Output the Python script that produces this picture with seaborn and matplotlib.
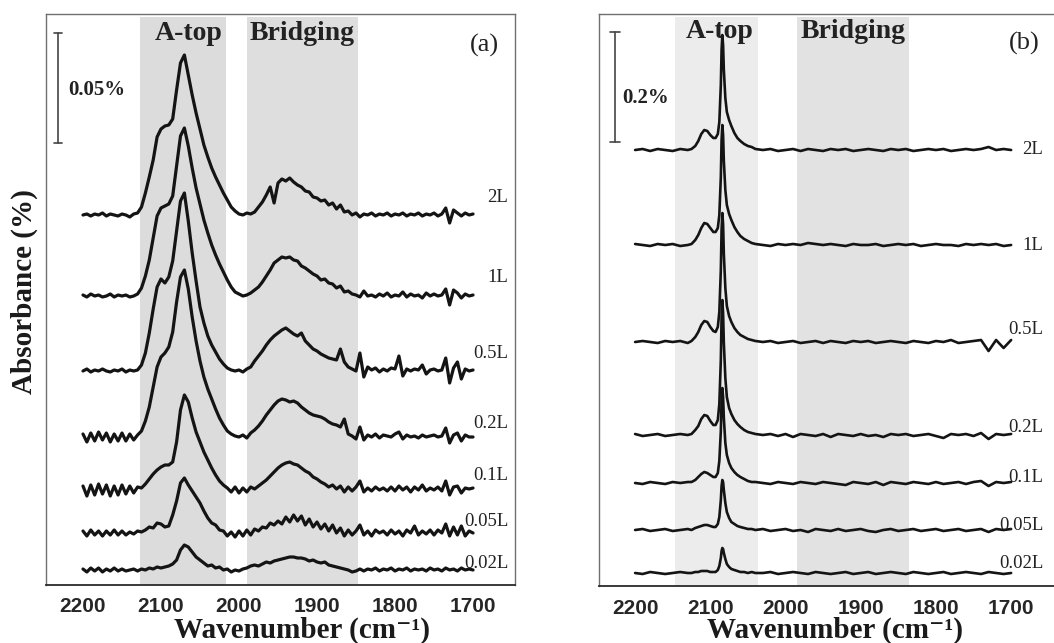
import numpy as np
import pandas as pd
import matplotlib
matplotlib.use("Agg")
import matplotlib.pyplot as plt
from matplotlib.ticker import MultipleLocator
import seaborn as sns

sns.set_style("white")
plt.rcParams['font.family'] = ['Liberation Serif', 'DejaVu Serif']

# ---------------- data (absorbance in scale-bar units: 110 units = bar) ----------------
labels = ["2L", "1L", "0.5L", "0.2L", "0.1L", "0.05L", "0.02L"]

# panel (a): wavenumber grid, 5 cm-1 steps from 2200 to 1700
wn_a = list(range(2200, 1695, -5))

a_2L = [0, 1, -1, 1, 0, 2, -1, 1, 0, -1,
        1, 0, -2, 1, 2, 8, 22, 38, 55, 78,
        86, 89, 90, 96, 125, 152, 160, 140, 120, 102,
        86, 70, 58, 47, 38, 30, 22, 15, 8, 4,
        1, 0, 2, 1, 3, 8, 13, 20, 28, 12,
        32, 36, 34, 37, 33, 30, 28, 24, 23, 18,
        17, 14, 15, 10, 12, 6, 10, 3, 4, 0,
        2, -2, 1, 0, 2, -1, 1, 0, 2, -1,
        1, 0, 2, -1, 1, 0, 2, -1, 1, 0,
        2, -1, 1, 7, -8, 5, 2, -1, 2, 0,
        1]
a_1L = [1, -1, 2, 0, 1, -1, 0, 2, -1, 1,
        0, 1, -1, 0, 2, 8, 20, 36, 58, 80,
        88, 90, 92, 100, 130, 160, 168, 150, 128, 108,
        92, 76, 63, 51, 41, 32, 24, 16, 9, 4,
        2, 0, 1, 3, 6, 9, 14, 20, 26, 33,
        36, 39, 38, 39, 36, 35, 30, 28, 25, 22,
        20, 16, 17, 13, 12, 8, 10, 4, 5, 2,
        1, -1, 5, 0, 1, -1, 2, 0, 3, -1,
        1, 0, 4, -1, 2, 0, 1, -2, 3, 0,
        2, 0, 1, 7, -9, 6, 3, -2, 2, 0,
        1]
a_05L = [0, 2, -1, 1, 0, 2, 0, -1, 1, 0,
         2, -1, 1, 0, 1, 6, 18, 38, 62, 84,
         92, 88, 94, 110, 140, 170, 178, 150, 118, 90,
         64, 48, 35, 26, 19, 12, 7, 3, 1, 0,
         1, -1, 2, 4, 10, 15, 20, 26, 31, 35,
         38, 41, 43, 40, 37, 35, 38, 30, 26, 22,
         20, 17, 15, 13, 12, 11, 22, 9, 4, 2,
         0, 18, -6, 4, 1, 3, -1, 2, 0, 3,
         2, 15, -5, 2, 0, 2, 1, 6, -3, 1,
         2, 0, 1, 13, -12, 3, 9, -8, 2, 0,
         1]
a_02L = [3, -5, 4, -4, 5, -3, 4, -5, 3, -4,
         4, -4, 3, -3, 2, 6, 16, 30, 50, 70,
         80, 84, 90, 105, 135, 160, 167, 148, 120, 96,
         76, 60, 48, 38, 28, 19, 12, 6, 3, 1,
         0, 2, -1, 4, 7, 11, 16, 22, 27, 32,
         36, 38, 37, 35, 36, 34, 30, 27, 24, 22,
         21, 20, 18, 15, 13, 12, 10, 18, 3, 1,
         -2, 10, -3, 2, 0, 3, -1, 2, 1, 0,
         3, 5, -2, 2, 0, 1, -1, 2, 0, 1,
         2, 0, 1, 9, -6, 2, 4, -4, 2, 0,
         0]
a_01L = [4, -6, 5, -5, 6, -4, 5, -6, 4, -5,
         5, -4, 4, -3, 3, 2, 6, 11, 16, 20,
         23, 25, 25, 28, 48, 80, 95, 88, 72, 58,
         48, 38, 30, 22, 15, 9, 5, 2, -2, 3,
         -3, 2, -2, 3, 1, 4, 7, 10, 14, 18,
         22, 25, 27, 28, 26, 25, 22, 19, 17, 13,
         11, 8, 6, 3, 5, 1, 4, -2, 3, -1,
         3, 9, -2, 2, -1, 3, 0, 2, -1, 3,
         -1, 4, 0, 3, -2, 3, 0, 5, -1, 2,
         0, 3, -1, 9, -5, 3, 4, -3, 2, 1,
         2]
a_005L = [2, -3, 3, -2, 2, -3, 2, -2, 3, -2,
          2, -2, 1, -1, 2, 1, 3, 6, 5, 10,
          9, 6, 7, 18, 32, 50, 55, 48, 42, 36,
          30, 22, 15, 10, 8, 3, 2, -3, 1, -4,
          2, -3, 3, -2, 4, 2, 6, 5, 10, 8,
          12, 9, 16, 11, 18, 12, 17, 8, 14, 6,
          11, 4, 9, 2, 8, 0, 5, -3, 3, -2,
          2, 8, -2, 2, -3, 3, 0, 2, -2, 3,
          -1, 2, -3, 3, 0, 7, -2, 2, -1, 3,
          -2, 3, 0, 9, -3, 6, -2, 7, -3, 2,
          0]
a_002L = [1, -2, 2, -1, 2, -2, 1, -1, 2, -1,
          1, -1, 0, 1, -1, 1, 0, 2, 1, 3,
          2, 3, 4, 6, 10, 20, 25, 23, 18, 13,
          10, 7, 4, 5, 2, 3, 0, 1, -2, 0,
          -1, 1, 2, 4, 5, 4, 6, 8, 7, 9,
          10, 11, 12, 13, 13, 12, 12, 11, 9, 10,
          8, 7, 8, 5, 4, 3, 2, 1, 0, -2,
          -1, 1, -1, 1, 0, 2, -1, 1, 0, 2,
          -1, 1, 0, 2, -1, 1, 0, 1, -1, 2,
          0, 1, -1, 2, 0, 1, -1, 2, 0, 1,
          0]

# panel (b): non-uniform wavenumber grid (fine around the sharp A-top band)
wn_b = [2200, 2190, 2180, 2170, 2160, 2150, 2140, 2130,
        2125, 2120, 2116, 2112, 2108, 2104, 2100, 2096, 2093, 2090,
        2088, 2086, 2085, 2084, 2083, 2082, 2080, 2078, 2075, 2072,
        2068, 2064, 2060, 2055, 2050, 2045, 2040,
        2030, 2020, 2010, 2000, 1990, 1980, 1970, 1960, 1950, 1940,
        1930, 1920, 1910, 1900, 1890, 1880, 1870, 1860, 1850, 1840,
        1830, 1820, 1810, 1800, 1790, 1780, 1770, 1760, 1750, 1740,
        1730, 1720, 1710, 1700]

b_2L = [0, 1, -1, 1, 0, -1, 1, 0,
        1, 4, 9, 16, 20, 19, 15, 12, 12, 16, 28, 65, 100, 115, 105, 80, 52, 38, 30, 24, 17, 12, 9, 6, 4, 3, 1,
        0, 1, -1, 0, 1, -1, 1, 0, -1, 1, 0, 1, -1, 0, 1, 0, -1, 1, 0, 1,
        -1, 0, 1, 0, 1, -1, 0, 1, 0, 1, 3, 0, 1, 0]
b_1L = [1, 0, -1, 1, 0, 1, -1, 0,
        1, 5, 10, 17, 22, 21, 17, 13, 13, 17, 30, 68, 105, 120, 110, 84, 55, 40, 31, 25, 18, 13, 9, 6, 4, 2, 1,
        0, -1, 1, 0, 1, 0, 2, 1, 0, 1, 0, -1, 1, 0, 0, 1, -1, 0, 1, 0,
        1, -1, 0, 1, 0, 0, -1, 1, 0, 1, 0, 1, -1, 0]
b_05L = [0, 1, 0, -1, 1, 0, 1, -1,
         1, 5, 10, 17, 21, 20, 15, 11, 10, 15, 30, 72, 112, 129, 118, 88, 54, 36, 26, 20, 14, 10, 7, 5, 3, 2, 1,
         0, 1, -1, 0, 1, -1, 0, 1, -1, 1, 0, -1, 1, 0, 1, -1, 0, 1, 0, -1,
         1, 0, -1, 1, 0, 2, -1, 0, 1, 2, -9, 2, -6, 2]
b_02L = [1, -1, 0, 1, -1, 0, 1, 0,
         1, 5, 9, 16, 20, 19, 14, 10, 10, 15, 31, 75, 118, 135, 122, 92, 57, 38, 27, 21, 15, 11, 8, 5, 3, 2, 1,
         0, 1, -1, 1, -2, 1, 0, -1, 1, -2, 1, 0, -1, 1, -1, 0, -2, 1, 0, 1,
         -1, 0, 1, -1, -3, 1, 0, 1, -1, 2, -4, 1, 0, 1]
b_01L = [0, -1, 1, 0, -1, 1, 0, 1,
         1, 3, 6, 9, 11, 10, 8, 6, 6, 10, 22, 52, 82, 95, 86, 65, 40, 28, 20, 15, 11, 8, 6, 4, 2, 1, 1,
         0, -1, 1, 0, -1, 1, 0, -1, 1, 0, -1, -2, 1, 0, -1, 1, -2, 1, 0, -1,
         1, 0, -1, 1, -1, 0, 1, -1, 1, 2, -3, 1, 0, 1]
b_005L = [0, 1, -1, 0, 1, -1, 0, 1,
          0, 2, 3, 4, 5, 5, 4, 3, 3, 6, 13, 30, 44, 50, 48, 40, 27, 18, 12, 8, 6, 4, 3, 2, 1, 1, 0,
          1, -1, 0, 1, -1, 0, -2, 1, 0, -1, 1, -1, 0, 1, -1, -2, 0, 1, -1, 0,
          1, -1, 0, 1, -1, 0, 1, -1, 0, 1, -2, 1, 0, 1]
b_002L = [0, -1, 1, 0, -1, 0, 1, 0,
          0, 1, 1, 2, 2, 2, 1, 1, 1, 3, 7, 15, 22, 25, 24, 20, 14, 9, 6, 4, 3, 2, 1, 1, 0, 1, 0,
          0, 1, -1, 0, 1, 0, -1, 1, 0, -1, 0, 1, -1, 0, 1, -1, 0, 1, 0, -1,
          1, 0, -1, 0, 1, -1, 0, 1, 0, -1, 1, 0, -1, 0]

series_a = [a_2L, a_1L, a_05L, a_02L, a_01L, a_005L, a_002L]
series_b = [b_2L, b_1L, b_05L, b_02L, b_01L, b_005L, b_002L]

# vertical stacking offsets and label heights (same units)
offsets_a = [370, 289, 214, 148, 95, 52, 15]
offsets_b = [436, 341, 244, 151, 103, 56, 13]
label_y_a = [387, 308, 232, 162, 110, 64, 22]
label_y_b = [437, 341, 257, 159, 108, 61, 23]

for s in series_a:
    assert len(s) == len(wn_a), len(s)
for s in series_b:
    assert len(s) == len(wn_b), len(s)

# ---------------- figure ----------------
W, H = 1054, 643
fig = plt.figure(figsize=(W / 100, H / 100), dpi=100)
axA = fig.add_axes([46 / W, 1 - 585 / H, (515 - 46) / W, (585 - 14) / H])
axB = fig.add_axes([599 / W, 1 - 586 / H, (1057 - 599) / W, (586 - 14) / H])

SERIF = ['Liberation Serif', 'DejaVu Serif']
SANS = ['Liberation Sans', 'DejaVu Sans']
LINE = '#141414'


def setup(ax, xlim, ylim):
    ax.set_xlim(*xlim)
    ax.set_ylim(*ylim)
    ax.set_yticks([])
    ticks = [2200, 2100, 2000, 1900, 1800, 1700]
    ax.set_xticks(ticks)
    ax.set_xticklabels([str(t) for t in ticks], fontsize=15, fontweight='bold',
                       family=SANS)
    ax.xaxis.set_minor_locator(MultipleLocator(50))
    ax.tick_params(axis='x', which='major', direction='in', length=4, width=1.1,
                   color='#333333', pad=9)
    ax.tick_params(axis='x', which='minor', direction='in', length=2.5, width=1.0,
                   color='#333333')
    for side in ['top', 'left', 'right']:
        ax.spines[side].set_color('#707070')
        ax.spines[side].set_linewidth(1.0)
    ax.spines['bottom'].set_color('#2a2a2a')
    ax.spines['bottom'].set_linewidth(1.3)


def draw(ax, wn, series, offsets, label_y, label_x, lw):
    for vals, off, lab, ly in zip(series, offsets, labels, label_y):
        df = pd.DataFrame({'wn': wn, 'A': np.asarray(vals, float) + off})
        sns.lineplot(data=df, x='wn', y='A', ax=ax, color=LINE, linewidth=lw,
                     sort=False, estimator=None, zorder=3)
        ax.text(label_x, ly, lab, ha='right', va='center', fontsize=13.5,
                family=SERIF, color='#222222', zorder=4)
    ax.set_xlabel('')
    ax.set_ylabel('')


# ---- panel (a)
setup(axA, (2247.4, 1646.2), (0, 571))
axA.axvspan(2127, 2017, ymin=0, ymax=0.995, color='#dcdcdc', lw=0, zorder=0)
axA.axvspan(1990, 1847, ymin=0, ymax=0.995, color='#dedede', lw=0, zorder=0)
draw(axA, wn_a, series_a, offsets_a, label_y_a, 1655, 2.3)
axA.plot([2232, 2232], [442, 552], color='#444444', lw=1.2)
axA.plot([2237, 2227], [552, 552], color='#444444', lw=1.2)
axA.plot([2237, 2227], [442, 442], color='#444444', lw=1.2)
axA.text(2219, 495, '0.05%', fontsize=15, fontweight='bold', family=SERIF,
         ha='left', va='center', color='#222222')
axA.text(2065, 551, 'A-top', fontsize=20, fontweight='bold', family=SERIF,
         ha='center', va='center', color='#222222')
axA.text(1919, 551, 'Bridging', fontsize=20, fontweight='bold', family=SERIF,
         ha='center', va='center', color='#222222')
axA.text(1686, 540, '(a)', fontsize=19, family=SERIF, ha='center', va='center',
         color='#222222')

# ---- panel (b)
setup(axB, (2248, 1639), (0, 572))
axB.axvspan(2147, 2036, ymin=0, ymax=0.995, color='#ececec', lw=0, zorder=0)
axB.axvspan(1985, 1836, ymin=0, ymax=0.995, color='#e2e2e2', lw=0, zorder=0)
draw(axB, wn_b, series_b, offsets_b, label_y_b, 1657, 1.9)
axB.plot([2227, 2227], [444, 554], color='#444444', lw=1.2)
axB.plot([2233.5, 2220.5], [554, 554], color='#444444', lw=1.2)
axB.plot([2233.5, 2220.5], [444, 444], color='#444444', lw=1.2)
axB.text(2217, 488, '0.2%', fontsize=15, fontweight='bold', family=SERIF,
         ha='left', va='center', color='#222222')
axB.text(2087, 554, 'A-top', fontsize=20, fontweight='bold', family=SERIF,
         ha='center', va='center', color='#222222')
axB.text(1910, 554, 'Bridging', fontsize=20, fontweight='bold', family=SERIF,
         ha='center', va='center', color='#222222')
axB.text(1683, 543, '(b)', fontsize=19, family=SERIF, ha='center', va='center',
         color='#222222')

# axis titles
xlabel = 'Wavenumber (cm\u207b\u00b9)'
fig.text(24 / W, 1 - 292 / H, 'Absorbance (%)', rotation=90, ha='center',
         va='center', fontsize=21, fontweight='bold', family=SERIF, color='#1a1a1a')
fig.text(302 / W, 0.008, xlabel, ha='center', va='baseline',
         fontsize=21, fontweight='bold', family=SERIF, color='#1a1a1a')
fig.text(835 / W, 0.008, xlabel, ha='center', va='baseline',
         fontsize=21, fontweight='bold', family=SERIF, color='#1a1a1a')

fig.savefig('out.png', dpi=100)
